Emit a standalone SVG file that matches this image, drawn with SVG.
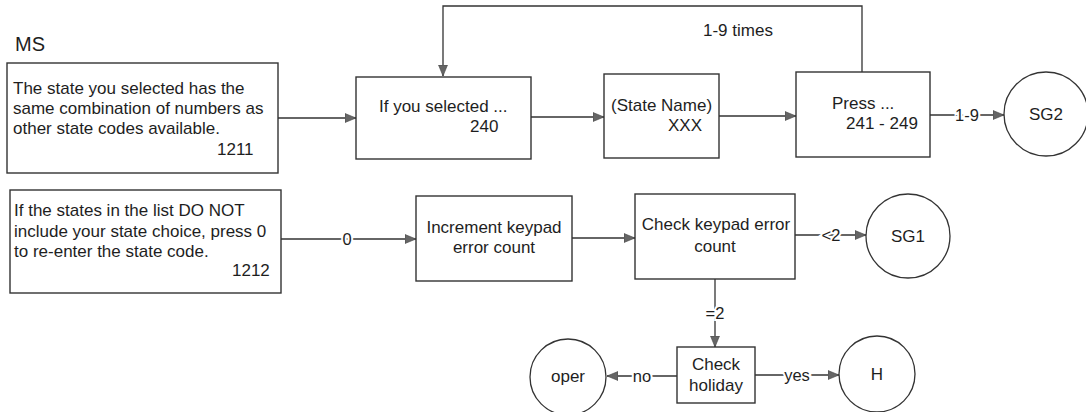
<svg xmlns="http://www.w3.org/2000/svg" width="1086" height="412" viewBox="0 0 1086 412">
<style>
text{font-family:"Liberation Sans",Arial,sans-serif;fill:#1e1e1e;}
.t{font-size:17px;}
.l{font-size:16.5px;stroke:#fff;stroke-width:4px;paint-order:stroke;}
.c{text-anchor:middle;}
.box{fill:#fff;stroke:#333;stroke-width:1.4;}
.circ{fill:#fff;stroke:#333;stroke-width:1.3;}
.edge{fill:none;stroke:#333;stroke-width:1.3;}
</style>
<defs>
<marker id="ah" markerUnits="userSpaceOnUse" markerWidth="12" markerHeight="10" refX="11" refY="5" orient="auto">
<path d="M0,0.5 L11,5 L0,9.5 Z" fill="#666" stroke="#444" stroke-width="0.6"/>
</marker>
</defs>
<rect width="1086" height="412" fill="#fff"/>
<text x="15" y="51" style="font-size:20px">MS</text>

<g id="connectors">
<line class="edge" x1="278" y1="118" x2="356" y2="118" marker-end="url(#ah)"/>
<line class="edge" x1="531" y1="117" x2="604" y2="117" marker-end="url(#ah)"/>
<line class="edge" x1="719" y1="116" x2="796" y2="116" marker-end="url(#ah)"/>
<line class="edge" x1="930" y1="115" x2="1004" y2="115" marker-end="url(#ah)"/>
<text class="l c" x="967" y="121">1-9</text>
<path class="edge" d="M862,72 V6 H443 V76" marker-end="url(#ah)"/>
<text x="703" y="36" style="font-size:17px">1-9 times</text>
<line class="edge" x1="281" y1="239" x2="416" y2="239" marker-end="url(#ah)"/>
<text class="l c" x="347" y="245">0</text>
<line class="edge" x1="572" y1="238" x2="635" y2="238" marker-end="url(#ah)"/>
<line class="edge" x1="795" y1="235" x2="866" y2="235" marker-end="url(#ah)"/>
<text class="l c" x="831" y="241">&lt;2</text>
<line class="edge" x1="715" y1="279" x2="715" y2="347" marker-end="url(#ah)"/>
<text class="l c" x="715" y="319">=2</text>
<line class="edge" x1="677" y1="376" x2="607" y2="376" marker-end="url(#ah)"/>
<text class="l c" x="642" y="382">no</text>
<line class="edge" x1="755" y1="375" x2="839" y2="375" marker-end="url(#ah)"/>
<text class="l c" x="797" y="381">yes</text>
</g>

<g id="n1211">
<rect class="box" x="7" y="63" width="271" height="110"/>
<text class="t" x="13" y="94">The state you selected has the</text>
<text class="t" x="13" y="114">same combination of numbers as</text>
<text class="t" x="13" y="134">other state codes available.</text>
<text class="t" x="217" y="155">1211</text>
</g>
<g id="n1212">
<rect class="box" x="10" y="190" width="271" height="103"/>
<text class="t" x="14" y="216">If the states in the list DO NOT</text>
<text class="t" x="14" y="237">include your state choice, press 0</text>
<text class="t" x="14" y="257">to re-enter the state code.</text>
<text class="t" x="232" y="276">1212</text>
</g>
<g id="n240">
<rect class="box" x="356" y="77" width="175" height="82"/>
<text class="t" x="379" y="112">If you selected ...</text>
<text class="t" x="470" y="132">240</text>
</g>
<g id="nState">
<rect class="box" x="604" y="74" width="115" height="84"/>
<text class="t" x="611" y="111">(State Name)</text>
<text class="t" x="668" y="131">XXX</text>
</g>
<g id="nPress">
<rect class="box" x="796" y="72" width="134" height="85"/>
<text class="t" x="832" y="109">Press ...</text>
<text class="t" x="846" y="129">241 - 249</text>
</g>
<g id="nSG2">
<circle class="circ" cx="1046" cy="114" r="42"/>
<text class="t c" x="1046" y="120">SG2</text>
</g>
<g id="nIncrement">
<rect class="box" x="416" y="196" width="156" height="85"/>
<text class="t c" x="494" y="233">Increment keypad</text>
<text class="t c" x="494" y="253">error count</text>
</g>
<g id="nCheck">
<rect class="box" x="635" y="194" width="160" height="85"/>
<text class="t c" x="716" y="230">Check keypad error</text>
<text class="t c" x="715" y="252">count</text>
</g>
<g id="nSG1">
<circle class="circ" cx="908" cy="236" r="42"/>
<text class="t c" x="908" y="242">SG1</text>
</g>
<g id="nHoliday">
<rect class="box" x="677" y="347" width="78" height="56"/>
<text class="t c" x="716" y="370">Check</text>
<text class="t c" x="716" y="391">holiday</text>
</g>
<g id="nOper">
<circle class="circ" cx="568" cy="377" r="38"/>
<text class="t c" x="568" y="382">oper</text>
</g>
<g id="nH">
<circle class="circ" cx="877" cy="374" r="38"/>
<text class="t c" x="877" y="380">H</text>
</g>
</svg>
